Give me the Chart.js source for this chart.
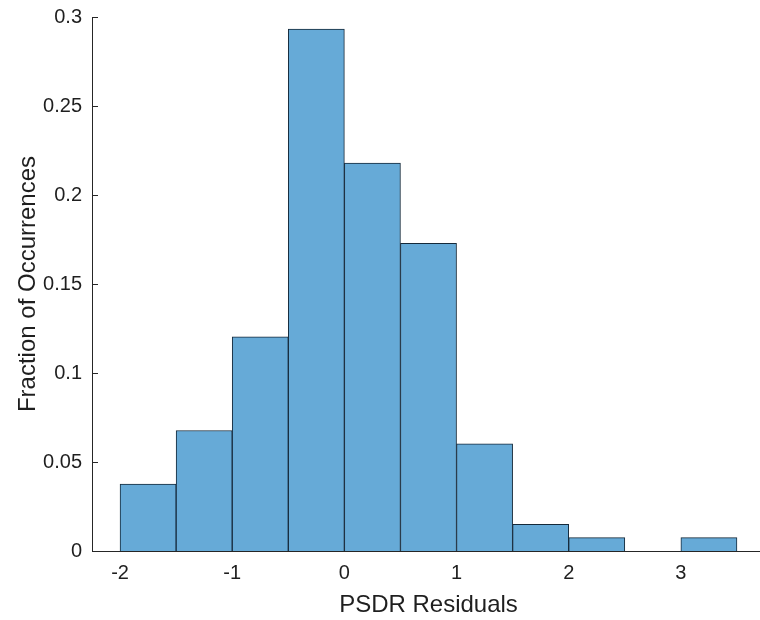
<!DOCTYPE html>
<html>
<head>
<meta charset="utf-8">
<script src="https://cdn.jsdelivr.net/npm/chart.js@4.4.1/dist/chart.umd.min.js"></script>
<style>
  html, body { margin: 0; padding: 0; background: #fff; overflow: hidden; }
  #wrap { width: 765px; height: 620px; position: relative; }
</style>
</head>
<body>
<div id="wrap"><canvas id="myChart" width="765" height="620"></canvas></div>
<script>
// histogram bins (centres), bin width 0.5
var binCenters = [-1.75, -1.25, -0.75, -0.25, 0.25, 0.75, 1.25, 1.75, 2.25, 2.75, 3.25];
var fractions = [0.0376, 0.0677, 0.1203, 0.2932, 0.2180, 0.1729, 0.0602, 0.0150, 0.0075, 0, 0.0075];
var xTicks = [-2, -1, 0, 1, 2, 3];
var yTicks = [0, 0.05, 0.1, 0.15, 0.2, 0.25, 0.3];

var points = [];
for (var i = 0; i < binCenters.length; i++) {
  points.push({x: binCenters[i], y: fractions[i]});
}

var font = "'Liberation Sans', Arial, Helvetica, sans-serif";
var axisColor = '#262626';
var textColor = '#1f1f1f';

// MATLAB style: inward ticks
var innerTicks = {
  id: 'innerTicks',
  afterDraw: function(chart) {
    var ctx = chart.ctx;
    var ys = chart.scales.y;
    var area = chart.chartArea;
    ctx.save();
    ctx.strokeStyle = axisColor;
    ctx.lineWidth = 1;
    ctx.beginPath();
    yTicks.forEach(function(v) {
      var y = Math.round(ys.getPixelForValue(v)) + 0.5;
      ctx.moveTo(area.left, y);
      ctx.lineTo(area.left + 6, y);
    });
    ctx.stroke();
    ctx.restore();
  }
};

var ctx = document.getElementById('myChart').getContext('2d');
new Chart(ctx, {
  type: 'bar',
  data: {
    datasets: [{
      label: 'PSDR Residuals',
      data: points,
      backgroundColor: 'rgb(102,170,215)',
      borderColor: '#15293a',
      borderWidth: 1,
      barPercentage: 1,
      categoryPercentage: 1
    }]
  },
  options: {
    responsive: false,
    animation: false,
    layout: { padding: { top: 17, left: 0, right: 0, bottom: 0 } },
    plugins: { legend: { display: false }, tooltip: { enabled: false } },
    scales: {
      x: {
        type: 'linear',
        offset: false,
        min: -2.25,
        max: 3.75,
        afterBuildTicks: function(scale) {
          scale.ticks = xTicks.map(function(v) { return {value: v}; });
        },
        afterFit: function(scale) {
          scale.height = 69;
          scale.paddingLeft = 0;
          scale.paddingRight = 0;
        },
        grid: { display: false, drawTicks: false },
        border: { display: true, color: axisColor, width: 1 },
        ticks: {
          color: textColor,
          padding: 10,
          maxRotation: 0,
          font: { family: font, size: 20 },
          callback: function(v) { return String(v); }
        },
        title: {
          display: true,
          text: 'PSDR Residuals',
          color: textColor,
          font: { family: font, size: 24 },
          padding: { top: 5, bottom: 0 }
        }
      },
      y: {
        min: 0,
        max: 0.3,
        afterBuildTicks: function(scale) {
          scale.ticks = yTicks.map(function(v) { return {value: v}; });
        },
        afterFit: function(scale) {
          scale.width = 92;
          scale.paddingTop = 0;
          scale.paddingBottom = 0;
        },
        grid: { display: false, drawTicks: false },
        border: { display: true, color: axisColor, width: 1 },
        ticks: {
          color: textColor,
          padding: 10,
          font: { family: font, size: 20 },
          callback: function(v) { return String(v); }
        },
        title: {
          display: true,
          text: 'Fraction of Occurrences',
          color: textColor,
          font: { family: font, size: 24 },
          padding: { top: 14, bottom: 0 }
        }
      }
    }
  },
  plugins: [innerTicks]
});
</script>
</body>
</html>
